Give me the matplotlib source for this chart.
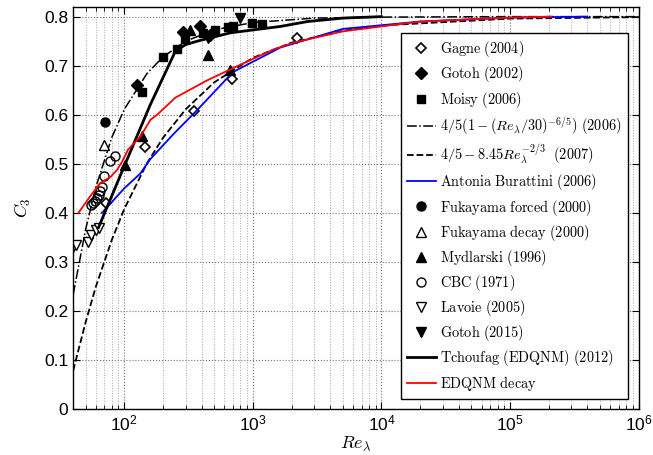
import numpy as np
import matplotlib
matplotlib.use("Agg")
import matplotlib.pyplot as plt
from matplotlib.ticker import LogLocator, NullFormatter

plt.rcParams['mathtext.fontset'] = 'cm'
plt.rcParams['font.family'] = ['Liberation Sans', 'DejaVu Sans']

# ===== data =====
gagne_re = [72, 146, 351, 692, 2220]
gagne_c = [0.42, 0.535, 0.608, 0.673, 0.757]

gotoh02_re = [126, 288, 390, 460]
gotoh02_c = [0.661, 0.769, 0.78, 0.762]

moisy_re = [138, 201, 258, 298, 412, 511, 644, 705, 990, 1187]
moisy_c = [0.647, 0.718, 0.733, 0.755, 0.767, 0.773, 0.778, 0.78, 0.788, 0.785]

# 4/5(1-(Re/30)^(-6/5))
dd_re = [40, 50, 60, 80, 100, 150, 200, 300, 500, 1000, 3000, 10000, 100000, 1000000]
dd_c = [0.233, 0.366, 0.452, 0.554, 0.611, 0.684, 0.718, 0.750, 0.773, 0.788, 0.797, 0.799, 0.80, 0.80]

# 4/5 - 8.45 Re^(-2/3)
da_re = [40, 50, 60, 80, 100, 150, 200, 300, 500, 1000, 2000, 5000, 10000, 100000, 1000000]
da_c = [0.078, 0.177, 0.249, 0.345, 0.408, 0.501, 0.553, 0.611, 0.666, 0.716, 0.747, 0.771, 0.782, 0.796, 0.799]

ab_re = [67, 100, 133, 160, 240, 370, 700, 1636, 5000, 20000, 100000, 400000]
ab_c = [0.40, 0.45, 0.48, 0.51, 0.56, 0.61, 0.687, 0.737, 0.775, 0.79, 0.798, 0.80]

fkf_re = [71]
fkf_c = [0.586]

fkd_re = [69]
fkd_c = [0.539]

myd_re = [102, 138, 326, 451, 668]
myd_c = [0.498, 0.557, 0.773, 0.722, 0.692]

cbc_re = [55, 57, 59, 61, 63, 65, 67, 70, 78, 85]
cbc_c = [0.415, 0.42, 0.425, 0.43, 0.437, 0.445, 0.452, 0.475, 0.505, 0.515]

lav_re = [40, 42, 52, 55, 60, 64]
lav_c = [0.33, 0.335, 0.34, 0.355, 0.365, 0.37]

gotoh15_re = [451, 800]
gotoh15_c = [0.757, 0.798]

tch_re = [63, 98, 159, 250, 300, 370, 668, 1636, 2655, 5000, 10000]
tch_c = [0.37, 0.49, 0.62, 0.73, 0.743, 0.75, 0.767, 0.78, 0.79, 0.797, 0.80]

edq_re = [44, 54, 65, 78, 88, 96, 107, 133, 160, 180, 250, 440, 700, 1445, 2070, 5000, 20000, 100000, 210000]
edq_c = [0.40, 0.433, 0.461, 0.473, 0.488, 0.504, 0.529, 0.555, 0.59, 0.60, 0.635, 0.67, 0.695, 0.733, 0.747, 0.77, 0.79, 0.798, 0.80]

ytick_vals = [0, 0.1, 0.2, 0.3, 0.4, 0.5, 0.6, 0.7, 0.8]
ytick_labels = ['0', '0.1', '0.2', '0.3', '0.4', '0.5', '0.6', '0.7', '0.8']

# ===== plot =====
fig = plt.figure(figsize=(6.53, 4.55), dpi=100)
ax = fig.add_axes([0.112, 0.101, 0.866, 0.884])

ms = 6.5
ax.plot(gagne_re, gagne_c, 'kD', mfc='white', ms=5.5, mew=1.2, ls='none', label=r'$\mathrm{Gagne\ (2004)}$')
ax.plot(gotoh02_re, gotoh02_c, 'kD', ms=6, ls='none', label=r'$\mathrm{Gotoh\ (2002)}$')
ax.plot(moisy_re, moisy_c, 'ks', ms=6, ls='none', label=r'$\mathrm{Moisy\ (2006)}$')
ax.plot(dd_re, dd_c, 'k-.', lw=1.1, label=r'$4/5(1-(Re_\lambda/30)^{-6/5})\ \mathrm{(2006)}$')
ax.plot(da_re, da_c, 'k--', lw=1.3, label=r'$4/5-8.45Re_\lambda^{-2/3}\ \ \mathrm{(2007)}$')
ax.plot(ab_re, ab_c, 'b-', lw=1.3, label=r'$\mathrm{Antonia\ Burattini\ (2006)}$')
ax.plot(fkf_re, fkf_c, 'ko', ms=ms, ls='none', label=r'$\mathrm{Fukayama\ forced\ (2000)}$')
ax.plot(fkd_re, fkd_c, 'k^', mfc='white', ms=ms, mew=1.0, ls='none', label=r'$\mathrm{Fukayama\ decay\ (2000)}$')
ax.plot(myd_re, myd_c, 'k^', ms=ms + 1, ls='none', label=r'$\mathrm{Mydlarski\ (1996)}$')
ax.plot(cbc_re, cbc_c, 'ko', mfc='none', ms=ms, mew=1.0, ls='none', label=r'$\mathrm{CBC\ (1971)}$')
ax.plot(lav_re, lav_c, 'kv', mfc='white', ms=ms, mew=1.0, ls='none', label=r'$\mathrm{Lavoie\ (2005)}$')
ax.plot(gotoh15_re, gotoh15_c, 'kv', ms=ms + 1, ls='none', label=r'$\mathrm{Gotoh\ (2015)}$')
ax.plot(tch_re, tch_c, 'k-', lw=2.0, label=r'$\mathrm{Tchoufag\ (EDQNM)\ (2012)}$')
ax.plot(edq_re, edq_c, 'r-', lw=1.3, label=r'$\mathrm{EDQNM\ decay}$')

ax.set_xscale('log')
ax.set_xlim(40, 1e6)
ax.set_ylim(0, 0.82)
ax.set_yticks(ytick_vals)
ax.set_yticklabels(ytick_labels)
ax.xaxis.set_minor_locator(LogLocator(base=10, subs=np.arange(2, 10), numticks=20))
ax.xaxis.set_minor_formatter(NullFormatter())

ax.tick_params(which='both', direction='in', top=True, right=True, labelsize=12.5)
ax.tick_params(which='major', length=5)
ax.tick_params(which='minor', length=3)
for s in ax.spines.values():
    s.set_linewidth(1.0)

ax.grid(which='major', axis='both', ls=':', color='0.45', lw=0.8)
ax.grid(which='minor', axis='x', ls=':', color='0.65', lw=0.7)

ax.set_xlabel(r'$Re_\lambda$', fontsize=13, labelpad=0)
ax.set_ylabel(r'$C_3$', fontsize=13, labelpad=8)

leg = ax.legend(loc='lower right', bbox_to_anchor=(0.981, 0.025), borderaxespad=0,
                numpoints=1, fontsize=10.3, handlelength=2.0, handletextpad=0.3,
                labelspacing=0.36, borderpad=0.45, fancybox=False, framealpha=1,
                edgecolor='black')
leg.get_frame().set_linewidth(1.0)

fig.savefig('out.png', dpi=100)
